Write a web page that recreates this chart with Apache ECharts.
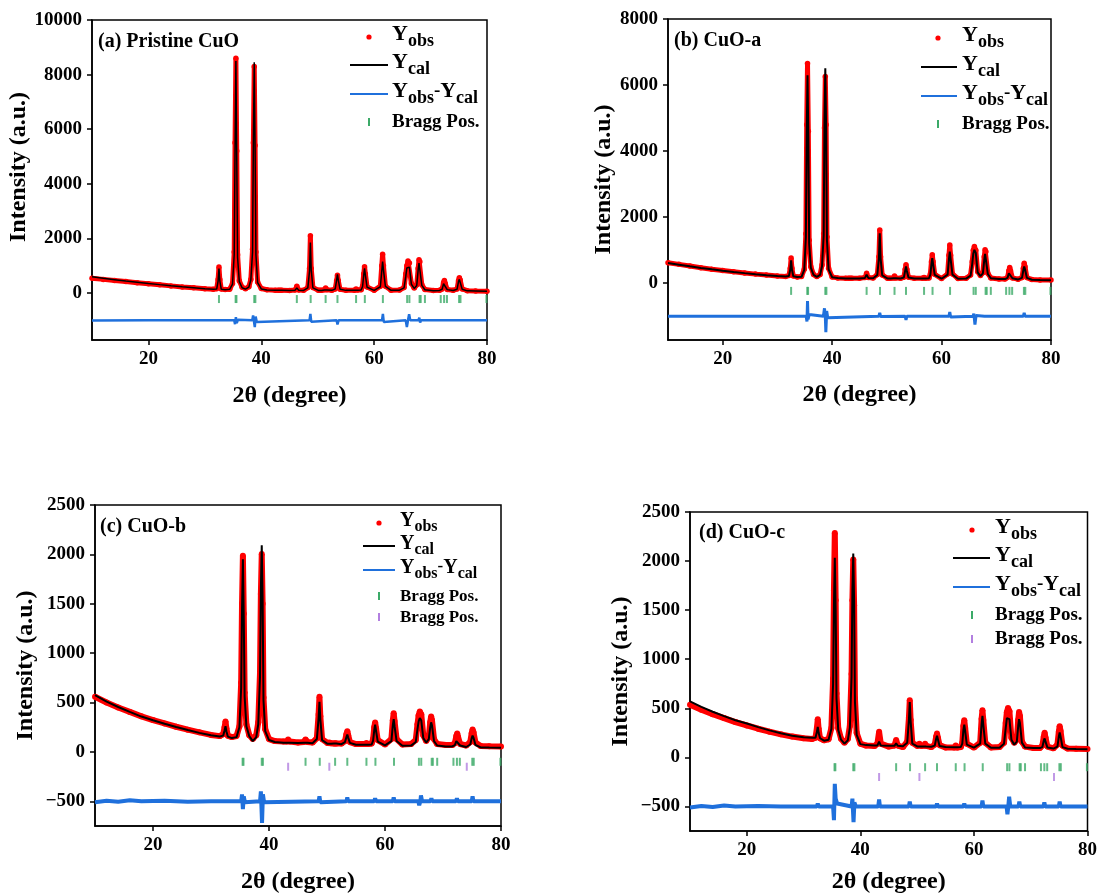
<!DOCTYPE html>
<html><head><meta charset="utf-8">
<script src="https://cdn.jsdelivr.net/npm/echarts@6/dist/echarts.min.js"></script>
<style>html,body{margin:0;padding:0;background:#fff}#chart{width:1100px;height:895px}</style>
</head><body><div id="chart"></div>
<script>
// shared 2θ sampling (degree)
const twoTheta = [
 10,12,14,16,18,20,22,24,26,28,30,31.5,
 32.1,32.35,32.5,32.65,32.9,
 33.6,34.4,
 34.9,35.2,35.35,35.5,35.65,35.8,36.1,
 36.6,37.2,37.8,
 38.15,38.45,38.6,38.75,38.9,39.05,39.35,
 40,41,42.5,
 43.0,43.3,43.6,
 45,
 46.0,46.3,46.6,
 47.5,
 48.25,48.55,48.7,48.85,49.15,
 50.1,50.4,50.7,
 51.2,51.4,51.6,
 52.5,
 53.1,53.35,53.5,53.65,53.95,
 55,
 56.5,56.8,57.1,
 57.7,
 57.95,58.15,58.3,58.45,58.75,
 60,
 61.1,61.35,61.5,61.65,62.0,
 63,64.5,
 65.3,65.6,65.8,66.0,66.25,66.6,
 67.1,
 67.55,67.8,67.95,68.1,68.45,
 69,70.5,71.6,
 72.05,72.3,72.45,72.6,72.95,
 74,
 74.7,74.95,75.1,75.25,75.6,
 76.5,78,80];

// (a) Pristine CuO
const obsA = [
 540,500,460,420,380,340,300,262,225,190,155,135,
 160,500,950,500,150,
 125,140,
 350,1500,5500,8600,5200,1400,450,
 210,160,230,
 500,1600,5500,8300,5400,1500,400,
 165,120,105,
 100,100,100,
 95,
 110,250,110,
 100,
 200,900,2100,900,200,
 100,100,100,
 120,180,120,
 100,
 150,450,650,450,140,
 100,
 105,150,110,
 120,
 250,700,960,700,220,
 100,
 250,1000,1420,1000,250,
 100,110,
 200,700,1000,1170,1100,350,
 180,
 300,900,1220,1150,300,
 130,90,100,
 150,380,460,350,130,
 100,
 150,450,560,480,150,
 85,75,65];
const calA = [
 600,540,490,440,395,350,308,268,230,194,160,140,
 145,450,900,450,140,
 118,135,
 330,1400,5200,8500,5000,1300,420,
 195,145,215,
 480,1500,5600,8450,5300,1400,380,
 150,115,100,
 98,98,98,
 95,
 105,190,105,
 95,
 190,800,1850,850,190,
 95,95,95,
 115,150,115,
 98,
 150,470,680,460,140,
 98,
 100,120,105,
 115,
 240,650,900,650,210,
 98,
 230,800,1150,850,240,
 100,105,
 190,600,920,860,950,320,
 170,
 280,850,1100,1050,280,
 120,85,95,
 140,340,400,320,125,
 95,
 140,420,500,440,140,
 80,75,70];
const diffA = [[10,-1010],[20,-1000],[30,-1000],[32.3,-1000],[32.45,-970],[32.6,-1030],[32.8,-1000],[35.2,-1000],[35.35,-1140],[35.5,-880],[35.65,-1100],[35.85,-980],[36.1,-1000],[38.4,-1000],[38.55,-820],[38.7,-780],[38.85,-1250],[39.0,-860],[39.2,-1060],[39.4,-1000],[48.55,-1000],[48.7,-760],[48.85,-1050],[49.0,-1000],[53.35,-1000],[53.5,-1150],[53.7,-1000],[61.4,-1000],[61.55,-760],[61.7,-1060],[61.85,-1000],[65.6,-1000],[65.8,-1250],[66.0,-1000],[66.2,-780],[66.4,-1000],[67.85,-1000],[68.0,-900],[68.15,-1080],[68.3,-1000],[74.95,-1000],[75.1,-930],[75.25,-1000],[80,-1000]];

// (b) CuO-a
const obsB = [
 620,570,520,470,425,385,345,310,275,245,220,205,
 230,450,760,450,220,
 190,200,
 420,1500,4800,6650,4600,1300,500,
 260,200,260,
 550,1500,4700,6260,4800,1400,450,
 190,160,150,
 150,150,150,
 150,
 170,300,170,
 160,
 260,800,1610,800,250,
 150,150,150,
 160,220,160,
 150,
 180,420,560,420,180,
 150,
 150,170,150,
 160,
 280,650,860,650,270,
 140,
 280,850,1160,850,280,
 140,150,
 250,650,1000,1110,1000,350,
 230,
 320,800,1010,950,300,
 160,130,130,
 170,380,475,380,160,
 120,
 170,450,606,500,170,
 110,100,95];
const calB = [
 610,560,510,462,420,380,342,305,272,243,218,204,
 215,420,690,420,210,
 185,195,
 400,1400,4500,6300,4400,1200,470,
 250,190,250,
 520,1450,4900,6510,4700,1300,420,
 180,155,145,
 145,145,145,
 145,
 160,260,160,
 150,
 250,750,1515,760,240,
 145,145,145,
 150,190,150,
 145,
 170,380,505,380,170,
 145,
 145,160,145,
 150,
 260,580,760,580,250,
 135,
 260,730,960,740,260,
 135,140,
 230,580,900,1010,920,330,
 215,
 300,700,890,850,280,
 150,125,125,
 160,300,354,300,150,
 115,
 160,400,505,420,160,
 105,98,92];
const diffB = [[10,-1000],[30,-1000],[32.35,-1000],[32.5,-960],[32.65,-1000],[35.25,-1000],[35.4,-1160],[35.5,-540],[35.6,-1100],[35.8,-950],[36.0,-1000],[38.4,-1000],[38.6,-760],[38.75,-1000],[38.85,-1480],[39.0,-840],[39.2,-1050],[39.4,-1000],[48.55,-1000],[48.7,-900],[48.85,-1010],[49.0,-1000],[53.35,-1000],[53.5,-1110],[53.65,-1000],[61.35,-1000],[61.5,-870],[61.65,-1020],[61.8,-1000],[65.75,-1000],[65.9,-920],[66.1,-1250],[66.3,-980],[66.45,-1000],[67.85,-1000],[68,-950],[68.15,-1000],[72.25,-1000],[72.4,-960],[72.55,-1000],[74.95,-1000],[75.1,-900],[75.25,-1000],[80,-1000]];

// (c) CuO-b
const obsC = [
 558,500,450,405,360,322,288,255,225,198,172,160,
 180,250,309,240,165,
 150,160,
 260,700,1500,1987,1400,600,280,
 170,130,170,
 300,800,1600,2003,1500,550,230,
 130,110,105,
 105,125,105,
 95,
 100,126,100,
 95,
 140,380,558,360,130,
 90,95,88,
 85,88,85,
 85,
 110,180,209,170,100,
 80,
 80,90,80,
 85,
 130,250,299,240,120,
 75,
 130,320,392,310,130,
 75,80,
 120,280,370,409,380,170,
 110,
 150,300,359,320,130,
 80,70,70,
 90,160,186,150,80,
 65,
 100,190,226,200,95,
 60,57,55];
const calC = [
 575,510,455,405,358,320,285,252,222,193,168,156,
 165,220,260,210,155,
 140,150,
 250,650,1450,1950,1350,560,260,
 160,110,150,
 280,760,1650,2093,1550,520,210,
 120,100,93,
 93,110,93,
 90,
 92,110,92,
 88,
 130,340,508,330,120,
 82,88,82,
 85,95,85,
 78,
 100,150,176,145,92,
 72,
 72,85,72,
 75,
 115,220,276,215,105,
 66,
 110,270,332,260,110,
 62,64,
 100,230,310,342,320,140,
 95,
 130,250,299,270,110,
 65,56,55,
 70,110,126,105,65,
 50,
 75,140,166,145,70,
 46,44,43];
const diffC = [[10,-510],[12,-495],[14,-505],[16,-490],[18,-500],[22,-495],[26,-505],[30,-500],[32.35,-500],[32.5,-480],[32.65,-500],[35.2,-500],[35.35,-430],[35.5,-580],[35.65,-450],[35.85,-510],[36,-500],[38.45,-500],[38.6,-400],[38.8,-720],[38.95,-430],[39.15,-510],[39.35,-500],[48.55,-500],[48.7,-450],[48.85,-510],[49,-500],[53.35,-500],[53.5,-460],[53.65,-500],[58.15,-500],[58.3,-470],[58.45,-500],[61.35,-500],[61.5,-460],[61.65,-500],[65.75,-500],[65.9,-540],[66.1,-500],[66.2,-440],[66.4,-500],[67.85,-500],[68,-470],[68.15,-500],[72.25,-500],[72.4,-470],[72.55,-500],[74.95,-500],[75.1,-450],[75.25,-500],[80,-500]];

// (d) CuO-c
const obsD = [
 537,485,440,400,360,325,292,262,235,212,195,188,
 200,300,388,290,195,
 175,185,
 300,800,1700,2287,1600,650,300,
 190,150,190,
 320,850,1600,2017,1550,600,250,
 140,120,115,
 140,260,140,
 110,
 120,176,120,
 105,
 160,400,581,380,150,
 115,140,115,
 120,140,118,
 105,
 130,210,243,200,125,
 100,
 100,120,100,
 105,
 150,320,378,300,140,
 100,
 150,390,480,380,150,
 100,105,
 150,350,460,503,470,200,
 150,
 180,380,463,420,160,
 110,95,95,
 120,210,250,200,110,
 92,
 130,260,318,270,120,
 90,88,85];
const calD = [
 571,515,465,420,378,345,308,275,245,220,206,200,
 200,260,311,250,195,
 170,180,
 290,750,1550,2034,1500,600,280,
 180,140,175,
 300,820,1700,2078,1600,560,230,
 135,125,120,
 122,159,122,
 118,
 118,142,118,
 113,
 150,380,564,370,140,
 110,130,110,
 112,130,110,
 108,
 120,190,220,185,115,
 105,
 104,115,104,
 106,
 140,280,334,270,130,
 100,
 140,340,422,330,140,
 98,98,
 140,300,400,412,390,180,
 130,
 160,320,389,350,150,
 100,96,95,
 105,170,193,160,100,
 90,
 110,210,253,215,105,
 88,86,84];
const diffD = [[10,-510],[12,-495],[14,-505],[16,-490],[18,-500],[22,-495],[26,-500],[30,-500],[32.35,-500],[32.5,-470],[32.65,-500],[35.2,-500],[35.35,-640],[35.5,-270],[35.65,-420],[35.9,-470],[36.2,-490],[38.45,-500],[38.6,-420],[38.8,-660],[38.95,-460],[39.2,-500],[43.15,-500],[43.3,-430],[43.45,-500],[48.55,-500],[48.7,-450],[48.85,-500],[53.35,-500],[53.5,-470],[53.65,-500],[58.15,-500],[58.3,-470],[58.45,-500],[61.35,-500],[61.5,-440],[61.65,-500],[65.75,-500],[65.9,-580],[66.05,-500],[66.2,-400],[66.4,-500],[67.85,-500],[68,-450],[68.15,-500],[72.25,-500],[72.4,-460],[72.55,-500],[74.95,-500],[75.1,-450],[75.25,-500],[80,-500]];

// Bragg reflection positions (2θ)
const braggCuOAB = [32.5,35.45,35.6,38.75,38.95,46.3,48.75,51.4,53.5,56.8,58.35,61.55,65.85,66.25,68.05,68.25,69.0,71.8,72.4,72.9,75.05,75.3,79.9];
const braggCuOCD = [35.45,35.6,38.75,38.95,46.3,48.75,51.4,53.5,56.8,58.35,61.55,65.85,66.25,68.05,68.25,69.0,71.8,72.4,72.9,75.05,75.3,79.9];
const braggCu = [43.3,50.4,74.1];

const xTickValues = [20,40,60,80];
const yTicksAB = [[0,2000,4000,6000,8000,10000],[0,2000,4000,6000,8000]];
const yTicksCD = [-500,0,500,1000,1500,2000,2500];

const FONT = '"Liberation Serif","Times New Roman",serif';
const RED = '#ff0000', BLUE = '#1f70dc', GREEN = '#3caa68', PURPLE = '#b27fe0';

const panels = [
 {grid:{left:92,top:20,width:395,height:320}, ymin:-1720, ymax:10000, yTicks:yTicksAB[0],
  obs:obsA, cal:calA, diff:diffA, bragg:[braggCuOAB], braggY:[-220], obsW:5, obsS:5.5, calW:1.5, diffW:2.5,
  gapY:60, gapX:44, namePad:[0,0,0,26], label:'(a) Pristine CuO', labelX:98, labelY:42,
  leg:{cx:369, rows:[37,65,94,122], l1:350, l2:388, tx:392, fs:19}},
 {grid:{left:668,top:19,width:383,height:321}, ymin:-1720, ymax:8000, yTicks:yTicksAB[1],
  obs:obsB, cal:calB, diff:diffB, bragg:[braggCuOAB], braggY:[-233], obsW:5, obsS:5.5, calW:2, diffW:3,
  gapY:52, gapX:43, namePad:[0,0,0,0], label:'(b) CuO-a', labelX:674, labelY:41,
  leg:{cx:938, rows:[38,67,96,124], l1:921, l2:957, tx:962, fs:19}},
 {grid:{left:95,top:505,width:406,height:326}, ymin:-750, ymax:2500, yTicks:yTicksCD,
  obs:obsC, cal:calC, diff:diffC, bragg:[braggCuOCD, braggCu], braggY:[-100,-150], obsW:6, obsS:6, calW:2, diffW:4,
  gapY:57, gapX:44, namePad:[0,0,0,0], label:'(c) CuO-b', labelX:100, labelY:527,
  leg:{cx:379, rows:[523,546,570,596,617], l1:363, l2:395, tx:400, fs:17}},
 {grid:{left:690,top:512,width:399,height:321}, ymin:-750, ymax:2500, yTicks:yTicksCD,
  obs:obsD, cal:calD, diff:diffD, bragg:[braggCuOCD, braggCu], braggY:[-100,-200], obsW:6, obsS:6, calW:2, diffW:4,
  gapY:57, gapX:39, namePad:[0,0,0,0], label:'(d) CuO-c', labelX:699, labelY:533,
  leg:{cx:972, rows:[530,558,587,615,639], l1:953, l2:990, tx:995, fs:19}}
];

const grids = [], xAxes = [], yAxes = [], series = [], graphics = [];
const fmtY = v => v < 0 ? '\u2212' + Math.abs(v) : String(v);
const braggColors = [GREEN, PURPLE];

panels.forEach((p, i) => {
  if (p.obs.length !== twoTheta.length || p.cal.length !== twoTheta.length) console.error('length mismatch panel ' + i, p.obs.length, p.cal.length);
  grids.push(Object.assign({show:true, borderColor:'#000', borderWidth:1.5, backgroundColor:'transparent'}, p.grid));
  const lblStyle = {fontFamily:FONT, fontWeight:'bold', fontSize:19, color:'#000'};
  xAxes.push({type:'value', gridIndex:i, min:10, max:80,
    axisLine:{show:true, onZero:false, lineStyle:{color:'#000', width:1.5}},
    axisTick:{show:true, inside:false, length:5, lineStyle:{color:'#000', width:1.5}, customValues:xTickValues},
    axisLabel:Object.assign({margin:10, customValues:xTickValues}, lblStyle),
    splitLine:{show:false},
    name:'2\u03b8 (degree)', nameLocation:'middle', nameGap:p.gapX,
    nameTextStyle:{fontFamily:FONT, fontWeight:'bold', fontSize:24, color:'#000'}});
  yAxes.push({type:'value', gridIndex:i, min:p.ymin, max:p.ymax,
    axisLine:{show:true, onZero:false, lineStyle:{color:'#000', width:1.5}},
    axisTick:{show:true, inside:false, length:5, lineStyle:{color:'#000', width:1.5}, customValues:p.yTicks},
    axisLabel:Object.assign({margin:10, customValues:p.yTicks, formatter:fmtY}, lblStyle),
    splitLine:{show:false},
    name:'Intensity (a.u.)', nameLocation:'middle', nameGap:p.gapY, nameRotate:90,
    nameTextStyle:{fontFamily:FONT, fontWeight:'bold', fontSize:24, color:'#000', padding:p.namePad}});

  series.push({type:'line', name:'Yobs'+i, xAxisIndex:i, yAxisIndex:i,
    data:twoTheta.map((x, k) => [x, p.obs[k]]),
    showSymbol:true, showAllSymbol:true, symbol:'circle', symbolSize:p.obsS,
    itemStyle:{color:RED}, lineStyle:{color:RED, width:p.obsW}, z:2, silent:true});
  series.push({type:'line', name:'Ycal'+i, xAxisIndex:i, yAxisIndex:i,
    data:twoTheta.map((x, k) => [x, p.cal[k]]),
    showSymbol:false, lineStyle:{color:'#000', width:p.calW}, z:3, silent:true});
  series.push({type:'line', name:'Ydiff'+i, xAxisIndex:i, yAxisIndex:i,
    data:p.diff, showSymbol:false, lineStyle:{color:BLUE, width:p.diffW}, z:3, silent:true});
  p.bragg.forEach((arr, j) => {
    series.push({type:'scatter', name:'Bragg'+i+'_'+j, xAxisIndex:i, yAxisIndex:i,
      data:arr.map(x => [x, p.braggY[j]]), symbol:'rect', symbolSize:[2, 8],
      itemStyle:{color:braggColors[j]}, z:4, silent:true});
  });

  // panel label
  graphics.push({type:'text', x:p.labelX, y:p.labelY, silent:true,
    style:{text:p.label, font:'bold 20px ' + FONT, fill:'#000', verticalAlign:'middle', textAlign:'left'}});

  // legend (drawn)
  const L = p.leg, fs = L.fs;
  const rich = {
    Y:{fontFamily:FONT, fontWeight:'bold', fontSize:fs+3, verticalAlign:'top', lineHeight:fs+6},
    s:{fontFamily:FONT, fontWeight:'bold', fontSize:fs-1, verticalAlign:'top', padding:[Math.round(fs*0.45),0,0,0]},
    t:{fontFamily:FONT, fontWeight:'bold', fontSize:fs, verticalAlign:'top', padding:[1,0,0,0]}
  };
  const texts = ['{Y|Y}{s|obs}', '{Y|Y}{s|cal}', '{Y|Y}{s|obs}{t|-}{Y|Y}{s|cal}', '{t|Bragg Pos.}', '{t|Bragg Pos.}'];
  const nRows = L.rows.length;
  graphics.push({type:'circle', shape:{cx:L.cx, cy:L.rows[0], r:2.6}, style:{fill:RED}, silent:true});
  graphics.push({type:'line', shape:{x1:L.l1, y1:L.rows[1], x2:L.l2, y2:L.rows[1]}, style:{stroke:'#000', lineWidth:2}, silent:true});
  graphics.push({type:'line', shape:{x1:L.l1, y1:L.rows[2], x2:L.l2, y2:L.rows[2]}, style:{stroke:BLUE, lineWidth:2}, silent:true});
  for (let r = 3; r < nRows; r++) {
    graphics.push({type:'rect', shape:{x:L.cx-1, y:L.rows[r]-4, width:2, height:8}, style:{fill:braggColors[r-3]}, silent:true});
  }
  for (let r = 0; r < nRows; r++) {
    const isBragg = r >= 3;
    graphics.push({type:'text', x:L.tx, y:L.rows[r] - (isBragg ? fs*0.55 : (fs+6)/2 + 1), silent:true,
      style:{text:texts[r], rich:rich, fill:'#000', textAlign:'left', verticalAlign:'top'}});
  }
});

const chart = echarts.init(document.getElementById('chart'), null, {renderer:'canvas'});
chart.setOption({animation:false, backgroundColor:'#fff', grid:grids, xAxis:xAxes, yAxis:yAxes, series:series, graphic:graphics});
</script></body></html>
